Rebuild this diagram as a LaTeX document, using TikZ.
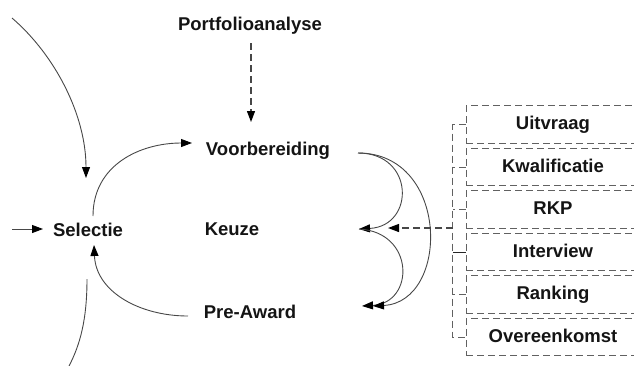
\documentclass[tikz,border=0pt]{standalone}
\usepackage{fontspec}
\setmainfont{Liberation Sans}
\usetikzlibrary{arrows.meta}
\begin{document}
\begin{tikzpicture}[x=1pt,y=-1pt,
  lbl/.style={font=\fontsize{18.5}{22}\selectfont\bfseries, text=black!92, inner sep=0pt, anchor=base},
  tip/.style={-{Triangle[length=11pt,width=8pt,color=black]}},
  flow/.style={draw=black!72, line width=0.9pt, tip},
  plain/.style={draw=black!72, line width=0.9pt},
  dflow/.style={draw=black!72, line width=1.2pt, dash pattern=on 7pt off 4pt, tip},
  stepbox/.style={draw=black!62, line width=1pt, dash pattern=on 7pt off 4pt,
    minimum width=174pt, minimum height=37.5pt, inner sep=0pt,
    text height=13.5pt, text depth=3.5pt,
    font=\fontsize{18.5}{22}\selectfont\bfseries, text=black!92},
  brk/.style={draw=black!62, line width=1pt, dash pattern=on 7pt off 4pt},
  brksolid/.style={draw=black!85, line width=1pt}
]
\useasboundingbox (0,0) rectangle (634,365);

% phase labels
\node[lbl] (port)  at (250,30)  {Portfolioanalyse};
\node[lbl] (voorb) at (268,155) {Voorbereiding};
\node[lbl] (keuze) at (232,235) {Keuze};
\node[lbl] (pre)   at (250,318) {Pre-Award};
\node[lbl] (sel)   at (88,236)  {Selectie};

% steps of the choice phase
\node[stepbox] (b1) at (553,124.5) {Uitvraag};
\node[stepbox] (b2) at (553,167)   {Kwalificatie};
\node[stepbox] (b3) at (553,209.5) {RKP};
\node[stepbox] (b4) at (553,252)   {Interview};
\node[stepbox] (b5) at (553,294.5) {Ranking};
\node[stepbox] (b6) at (553,337)   {Overeenkomst};

% bracket joining the steps
\draw[brk] (b1.west) -- ++(-13,0) |- (b6.west);
\draw[brk] (b2.west) -- ++(-13,0);
\draw[brk] (b3.west) -- ++(-13,0);
\draw[brksolid] (b4.west) -- ++(-13,0);
\draw[brk] (b5.west) -- ++(-13,0);

% connector end points around the labels
\coordinate (inTop)  at (12,18);
\coordinate (inLeft) at (12,229);
\coordinate (outBot) at (69,366);
\coordinate (selT)   at (86,178);
\coordinate (selW)   at (43,229);
\coordinate (selUp)  at (93,216);
\coordinate (selDn)  at (87,279);
\coordinate (selB)   at (94,245);
\coordinate (voorW)  at (192,143);
\coordinate (voorE)  at (358,153);
\coordinate (portS)  at (251,43);
\coordinate (voorN)  at (251,122);
\coordinate (keuE)   at (359,229);
\coordinate (keuIn)  at (388,228);
\coordinate (brkIn)  at (453,228);
\coordinate (preW)   at (188,316);
\coordinate (preE1)  at (362,306);
\coordinate (preE2)  at (373,306);

% left-hand cycle
\draw[flow] (inTop) .. controls (55,55) and (86,115) .. (selT);
\draw[flow] (inLeft) -- (selW);
\draw[plain] (selDn) .. controls (87,320) and (80,345) .. (outBot);
\draw[flow] (selUp) .. controls (93,165) and (140,143) .. (voorW);
\draw[flow] (preW) .. controls (140,316) and (96,292) .. (selB);

% input from portfolio analysis
\draw[dflow] (portS) -- (voorN);

% right-hand transitions
\draw[flow] (voorE) .. controls (415,153) and (415,226) .. (keuE);
\draw[flow] (keuE) .. controls (415,232) and (415,303) .. (preE1);
\draw[flow] (voorE) .. controls (450,153) and (450,302) .. (preE2);

% steps feeding the choice
\draw[dflow] (brkIn) -- (keuIn);
\end{tikzpicture}
\end{document}
